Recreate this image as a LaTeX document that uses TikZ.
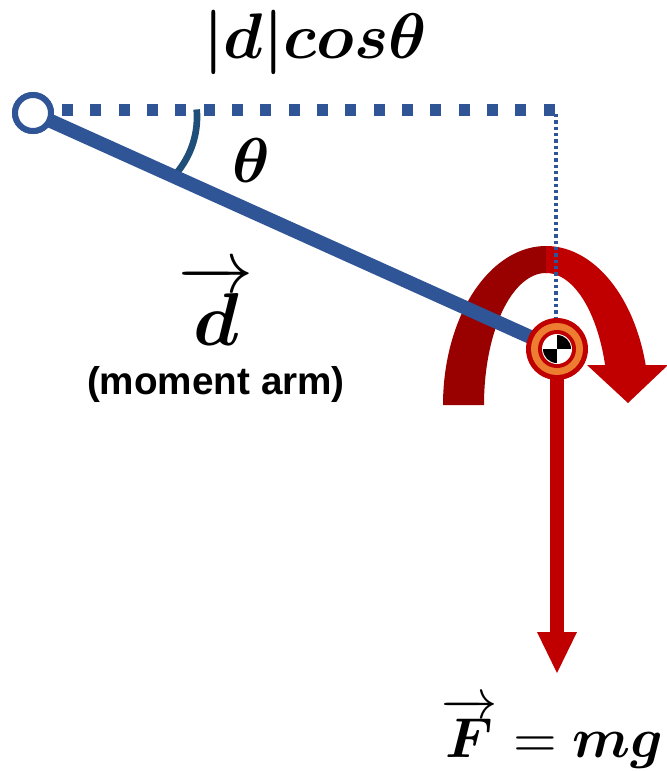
\documentclass[tikz,border=0pt]{standalone}
\usepackage{amsmath}
\usepackage{graphicx}
\usepackage{fontspec}
\newfontfamily\labelfont{Liberation Sans}
\definecolor{rodblue}{HTML}{2F5597}
\definecolor{arcblue}{HTML}{1F4E79}
\definecolor{fred}{HTML}{C00000}
\definecolor{dred}{HTML}{990000}
\definecolor{ringor}{HTML}{ED7D31}
\tikzset{
  mathlab/.style={inner sep=0pt, anchor=base},
  rodline/.style={draw=rodblue, line width=4.2mm},
  pivotnode/.style={circle, draw=rodblue, fill=white, line width=1.8mm, minimum size=10.8mm, inner sep=0pt},
}
\begin{document}
\begin{tikzpicture}[x=0.03cm,y=-0.03cm]
\useasboundingbox (0,0) rectangle (667,771);
\coordinate (com) at (557,349);
\coordinate (hstart) at (62,110);
\coordinate (hend) at (557,110);
\coordinate (vstart) at (556,114);
\coordinate (vend) at (556,318);
\coordinate (fend) at (557,634);
% curved moment arrow
\fill[dred] plot[domain=180:89,samples=80] ({546+103*cos(\x)},{405-159*sin(\x)})
  -- plot[domain=89:180,samples=80] ({546+62*cos(\x)},{405-132*sin(\x)}) -- cycle;
\begin{scope}
\clip (400,200) rectangle (700,365.5);
\fill[fred] plot[domain=90:0,samples=80] ({546+103*cos(\x)},{405-159*sin(\x)})
  -- plot[domain=0:90,samples=80] ({546+62*cos(\x)},{405-132*sin(\x)}) -- cycle;
\end{scope}
\fill[fred] (587,365) -- (668,365) -- (628,403) -- cycle;
% horizontal projection (dotted)
\draw[rodblue, line width=3.6mm, dash pattern=on 3.3mm off 5.2mm] (hstart) -- (hend);
\draw[rodblue, line width=1mm, dash pattern=on 1mm off 0.9mm] (vstart) -- (vend);
% angle arc
\draw[arcblue, line width=2mm] plot[domain=-5:44,samples=40] ({110+87*cos(\x)},{117+87*sin(\x)});
% rod
\node[pivotnode] (pv) at (33,113) {};
\draw[rodline] (pv.center) -- (com);
\node[pivotnode] at (pv.center) {};
% force
\draw[fred, line width=4.2mm] (com) -- (fend);
\fill[fred] (537,632) -- (577,632) -- (557,673) -- cycle;
% centre of mass symbol
\fill[fred] (com) circle (9.3mm);
\fill[ringor] (com) circle (7.8mm);
\fill[fred] (com) circle (5.7mm);
\fill[white] (com) circle (4.5mm);
\begin{scope}
\clip (com) circle (4.2mm);
\fill[black] (com) rectangle ++(5mm,5mm);
\fill[black] (com) rectangle ++(-5mm,-5mm);
\end{scope}
% labels
\node[mathlab] (cosl) at (315,58) {\scalebox{5.5}{$\boldsymbol{|d|cos\theta}$}};
\node[mathlab] (thl) at (251,182) {\scalebox{5.4}{$\boldsymbol{\theta}$}};
\node[mathlab] (dl) at (216,345) {\scalebox{6.4}{$\overrightarrow{\boldsymbol{d}}$}};
\node[mathlab] (marm) at (216,394) {\labelfont\bfseries\fontsize{33}{35}\selectfont (moment arm)};
\node[inner sep=0pt, anchor=base west] (fl) at (441,757) {\scalebox{4.8}{$\overrightarrow{\boldsymbol{F}}=\boldsymbol{mg}$}};
\end{tikzpicture}
\end{document}
